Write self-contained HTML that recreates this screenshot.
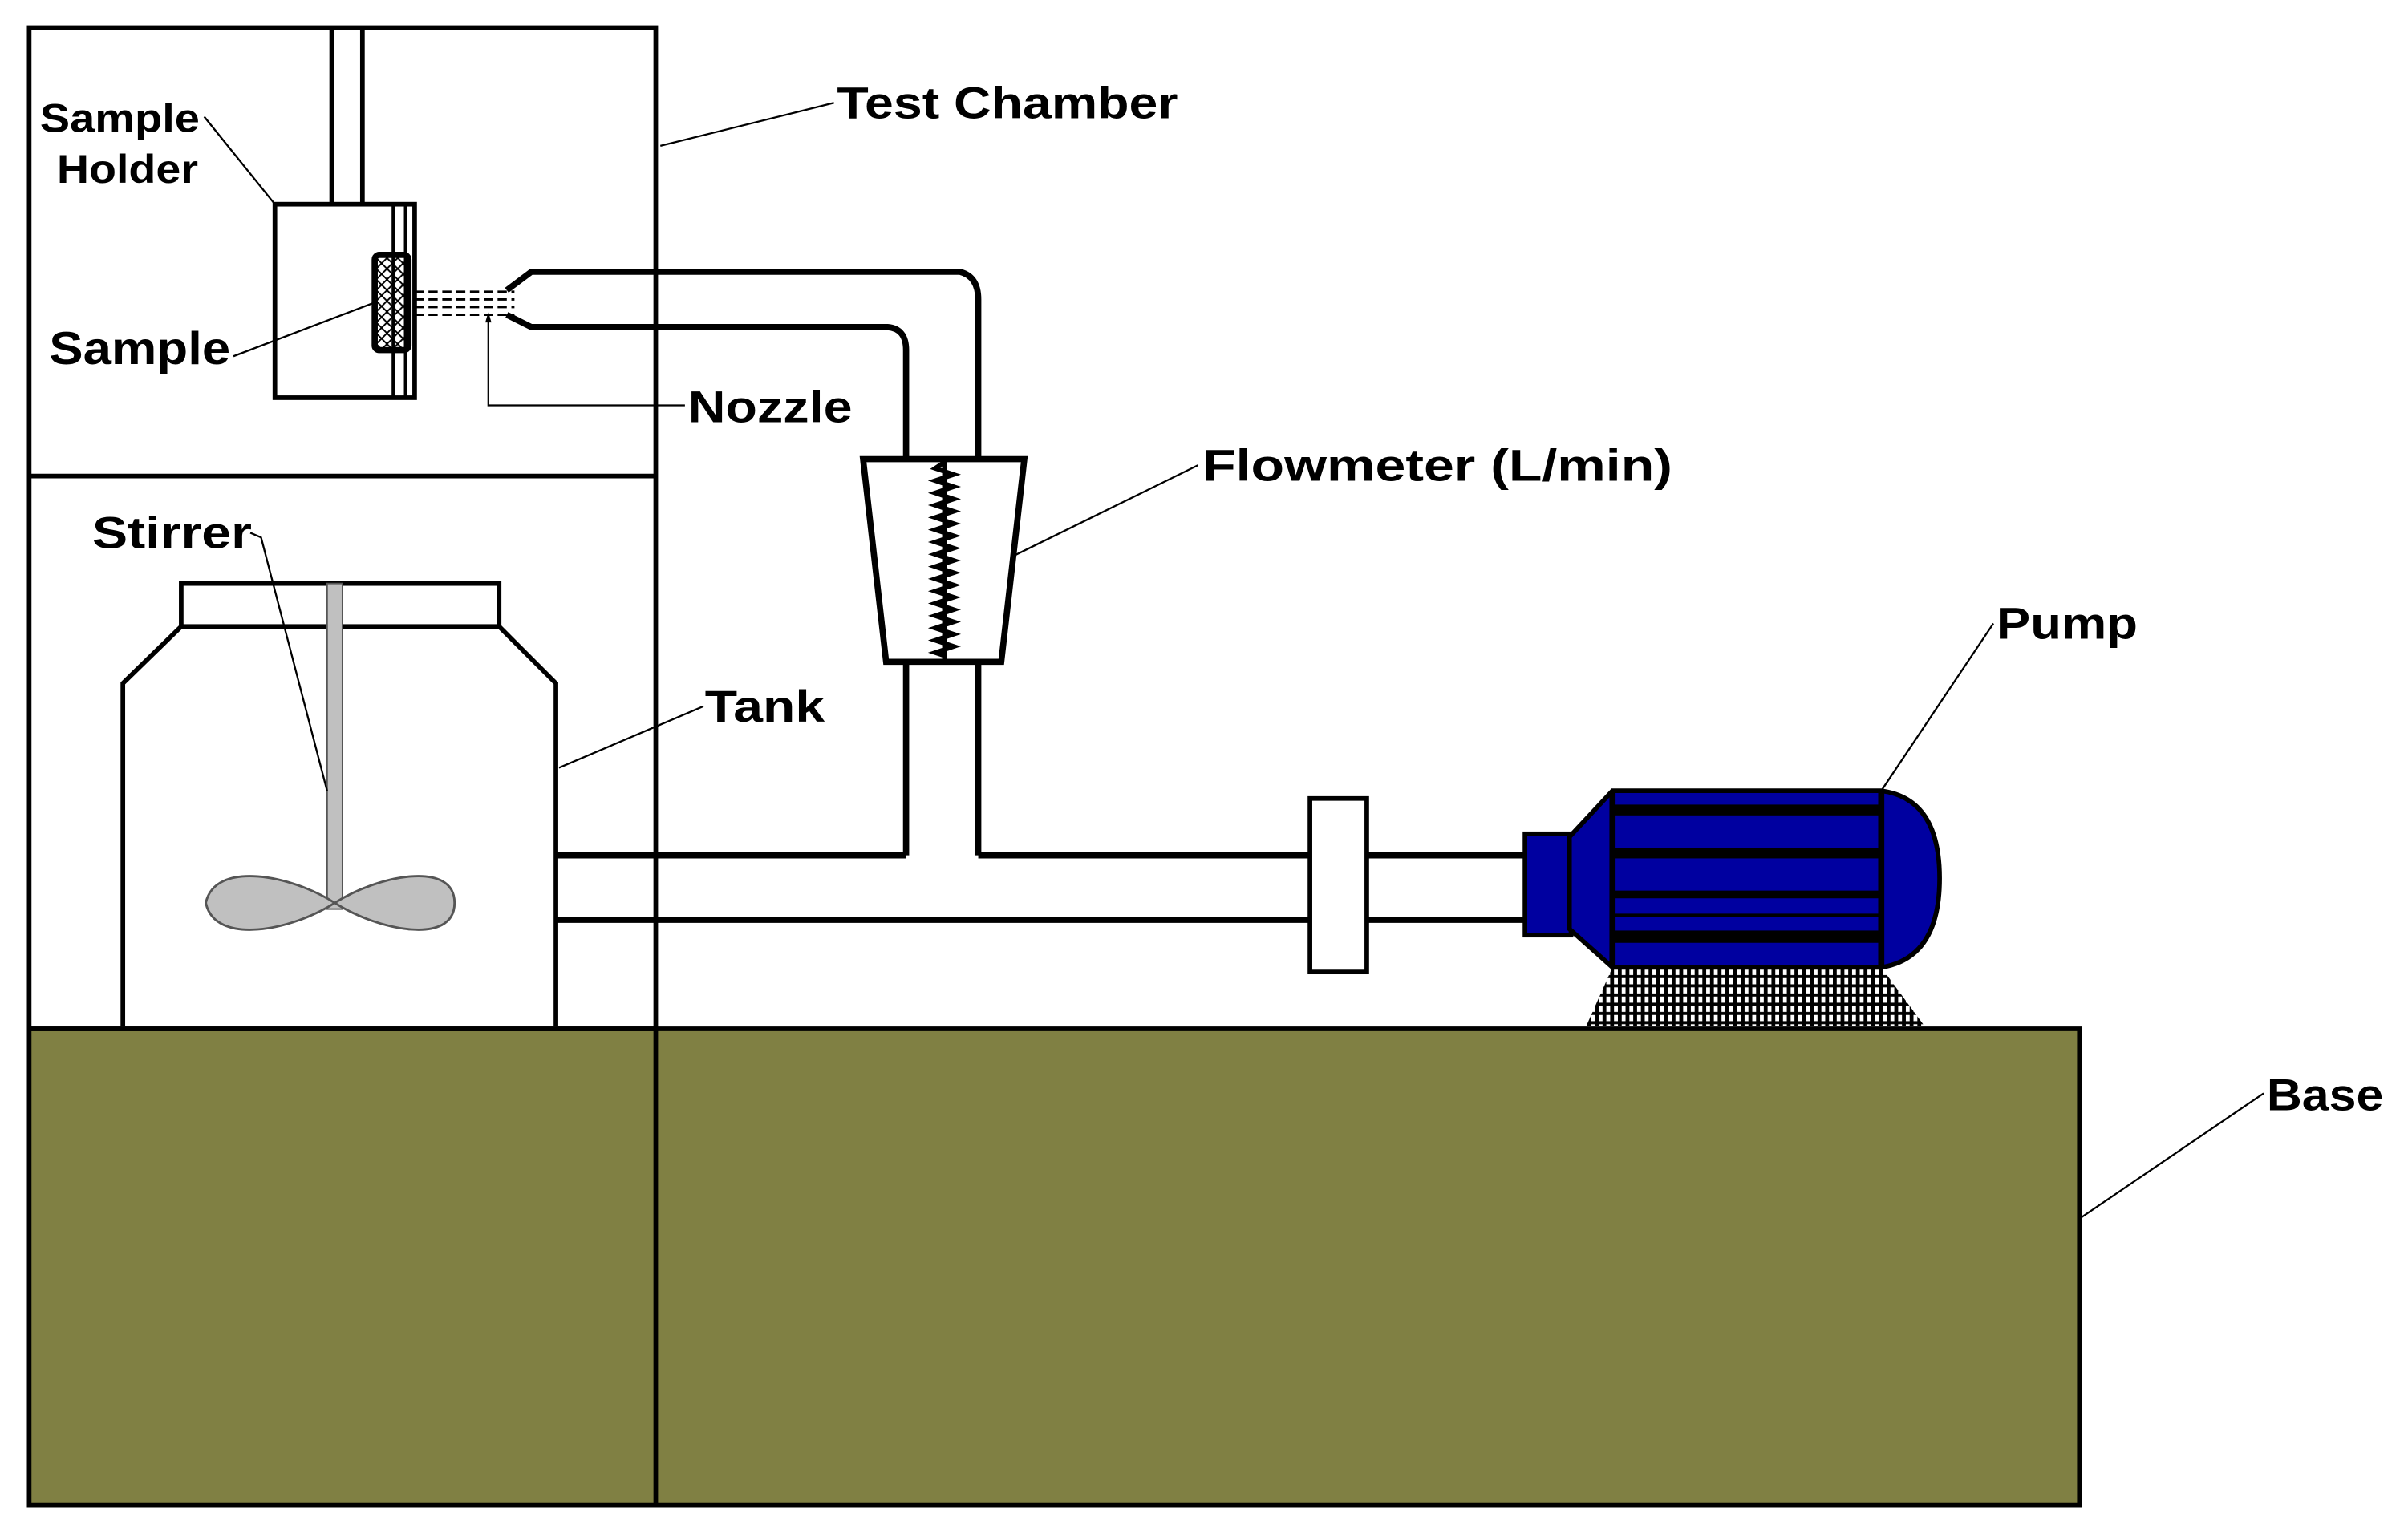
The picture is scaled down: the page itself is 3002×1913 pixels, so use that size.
<!DOCTYPE html>
<html><head><meta charset="utf-8"><style>
html,body{margin:0;padding:0;background:#fff;}
svg{display:block;}
text{font-family:"Liberation Sans",sans-serif;font-weight:bold;fill:#000;}
</style></head><body>
<svg width="3002" height="1913" viewBox="0 0 1568 999" preserveAspectRatio="none" xmlns="http://www.w3.org/2000/svg">
<defs>
<pattern id="hatch" width="7" height="7" patternUnits="userSpaceOnUse">
<path d="M0,0 L7,7 M7,0 L0,7" stroke="#000" stroke-width="1"/>
</pattern>
<pattern id="grid" width="5" height="6" patternUnits="userSpaceOnUse">
<rect width="5" height="6" fill="#000"/><rect x="1" y="1" width="2.5" height="4" fill="#fff"/>
</pattern>
</defs>
<!-- Base -->
<rect x="19" y="670" width="1335" height="310" fill="#808043" stroke="#000" stroke-width="3"/>
<line x1="427" y1="670" x2="427" y2="980" stroke="#000" stroke-width="3"/>
<!-- Chamber -->
<rect x="19" y="18" width="408" height="652" fill="none" stroke="#000" stroke-width="3"/>
<line x1="19" y1="310" x2="427" y2="310" stroke="#000" stroke-width="3"/>
<!-- rod -->
<line x1="216" y1="18" x2="216" y2="133" stroke="#000" stroke-width="3"/>
<line x1="236" y1="18" x2="236" y2="133" stroke="#000" stroke-width="3"/>
<!-- holder -->
<rect x="179" y="133" width="91" height="126" fill="#fff" stroke="#000" stroke-width="3"/>
<line x1="256" y1="133" x2="256" y2="259" stroke="#000" stroke-width="2"/>
<line x1="264" y1="133" x2="264" y2="259" stroke="#000" stroke-width="2"/>
<rect x="244" y="166" width="22" height="62" rx="3" fill="url(#hatch)" stroke="#000" stroke-width="4"/>
<!-- jet -->
<g stroke="#000" stroke-width="1.5" stroke-dasharray="6,3">
<line x1="270" y1="190" x2="335" y2="190"/><line x1="270" y1="195" x2="335" y2="195"/>
<line x1="270" y1="200" x2="335" y2="200"/><line x1="270" y1="205" x2="335" y2="205"/>
</g>
<!-- nozzle pipe -->
<path d="M330,189 L346,177 L625,177 Q637,180 637,195 L637,299" fill="none" stroke="#000" stroke-width="4"/>
<path d="M330,205 L346,213 L578,213 Q590,214 590,228 L590,299" fill="none" stroke="#000" stroke-width="4"/>
<!-- flowmeter -->
<polygon points="562,299 667,299 652,431 577,431" fill="#fff" stroke="#000" stroke-width="4"/>
<path d="M615,301 l-6,4 l12,4 l-12,4 l12,4 l-12,4 l12,4 l-12,4 l12,4 l-12,4 l12,4 l-12,4 l12,4 l-12,4 l12,4 l-12,4 l12,4 l-12,4 l12,4 l-12,4 l12,4 l-12,4 l12,4 l-12,4 l12,4 l-12,4 l12,4 l-12,4 l12,4 l-12,4 l12,4 l-12,4 l6,2 L615,430" fill="none" stroke="#000" stroke-width="3"/>
<line x1="615" y1="300" x2="615" y2="431" stroke="#000" stroke-width="3"/>
<!-- vertical pipe -->
<line x1="590" y1="431" x2="590" y2="557" stroke="#000" stroke-width="4"/>
<line x1="637" y1="431" x2="637" y2="557" stroke="#000" stroke-width="4"/>
<!-- horizontal pipe -->
<path d="M362,557 L590,557 M637,557 L853,557 M362,599 L853,599 M890,557 L993,557 M890,599 L993,599" stroke="#000" stroke-width="4" fill="none"/>
<rect x="853" y="520" width="37" height="113" fill="#fff" stroke="#000" stroke-width="3"/>
<!-- pump stand -->
<polygon points="1050,630 1225,630 1253,668 1033,668" fill="url(#grid)"/>
<!-- pump -->
<rect x="993" y="543" width="30" height="66" fill="#0000a0" stroke="#000" stroke-width="3"/>
<path d="M1022,545 L1050,515 L1225,515 Q1263,520 1263,572 Q1263,624 1225,630 L1050,630 L1022,605 Z" fill="#0000a0" stroke="#000" stroke-width="3"/>
<line x1="1225" y1="515" x2="1225" y2="630" stroke="#000" stroke-width="4"/>
<line x1="1050" y1="515" x2="1050" y2="630" stroke="#000" stroke-width="4"/>
<g fill="#000">
<rect x="1050" y="524" width="175" height="7"/><rect x="1050" y="552" width="175" height="7"/>
<rect x="1050" y="580" width="175" height="5"/><rect x="1050" y="595" width="175" height="2"/>
<rect x="1050" y="606" width="175" height="8"/>
</g>
<!-- tank -->
<path d="M80,668 L80,445 L118,408 L325,408 L362,445 L362,668" fill="#fff" stroke="#000" stroke-width="3"/>
<rect x="118" y="380" width="207" height="28" fill="#fff" stroke="#000" stroke-width="3"/>
<rect x="213" y="380" width="10" height="212" fill="#c0c0c0" stroke="#555" stroke-width="1"/>
<path d="M218,588 C190,570 140,560 134,588 C140,616 190,606 218,588 C246,570 296,560 296,588 C296,616 246,606 218,588 Z" fill="#c0c0c0" stroke="#555" stroke-width="1.5"/>
<!-- leaders -->
<g stroke="#000" stroke-width="1.2" fill="none">
<path d="M430,95 L543,67"/>
<path d="M133,76 L179,133"/>
<path d="M152,232 L244,197"/>
<path d="M446,264 L318,264 L318,207"/>
<path d="M780,303 L660,362"/>
<path d="M163,347 L170,350 L213,515"/>
<path d="M458,460 L364,500"/>
<path d="M1298,406 L1225,515"/>
<path d="M1474,712 L1355,793"/>
</g>
<polygon points="318,203 316,210 320,210" fill="#000"/>
<!-- labels -->
<text x="545" y="77" font-size="29" textLength="222" lengthAdjust="spacingAndGlyphs">Test Chamber</text>
<text x="26" y="86" font-size="26" textLength="104" lengthAdjust="spacingAndGlyphs">Sample</text>
<text x="37" y="119" font-size="26" textLength="92" lengthAdjust="spacingAndGlyphs">Holder</text>
<text x="32" y="237" font-size="30" textLength="118" lengthAdjust="spacingAndGlyphs">Sample</text>
<text x="448" y="275" font-size="29" textLength="107" lengthAdjust="spacingAndGlyphs">Nozzle</text>
<text x="783" y="313" font-size="29" textLength="306" lengthAdjust="spacingAndGlyphs">Flowmeter (L/min)</text>
<text x="60" y="357" font-size="29" textLength="104" lengthAdjust="spacingAndGlyphs">Stirrer</text>
<text x="459" y="470" font-size="29" textLength="78" lengthAdjust="spacingAndGlyphs">Tank</text>
<text x="1300" y="416" font-size="29" textLength="92" lengthAdjust="spacingAndGlyphs">Pump</text>
<text x="1476" y="723" font-size="29" textLength="76" lengthAdjust="spacingAndGlyphs">Base</text>
</svg>
</body></html>
